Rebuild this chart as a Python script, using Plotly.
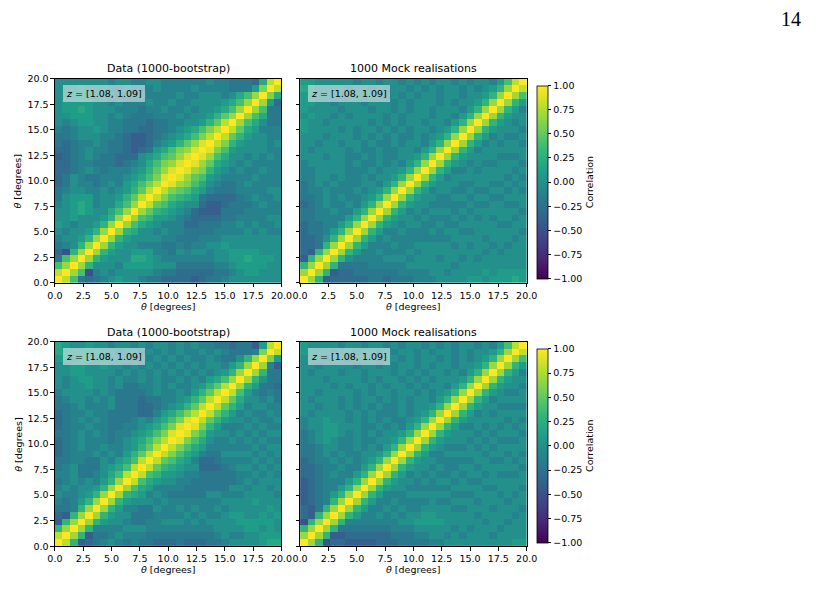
import numpy as np
import plotly.graph_objects as go

# ---------------- data ----------------
N_BINS = 30
THETA_MAX = 20.0
theta_edges = np.linspace(0.0, THETA_MAX, N_BINS + 1)
theta_centres = 0.5 * (theta_edges[:-1] + theta_edges[1:])

tick_vals = [0, 2.5, 5, 7.5, 10, 12.5, 15, 17.5, 20]
tick_text = ["0.0", "2.5", "5.0", "7.5", "10.0", "12.5", "15.0", "17.5", "20.0"]
cbar_vals = [1.0, 0.75, 0.5, 0.25, 0.0, -0.25, -0.5, -0.75, -1.0]
cbar_text = ["1.00", "0.75", "0.50", "0.25", "0.00", "\u22120.25", "\u22120.50", "\u22120.75", "\u22121.00"]

# correlation level code (one character per cell)
LEVEL = {"A": -0.6, "B": -0.5, "C": -0.4, "D": -0.3, "E": -0.2, "F": -0.1,
         "0": 0.0, "1": 0.1, "2": 0.2, "3": 0.3, "4": 0.4, "5": 0.5,
         "6": 0.6, "7": 0.7, "8": 0.8, "9": 0.9, "X": 1.0}

# lower triangle rows (row i = theta_y bin i, columns 0..i-1); diagonal = 1
data_top_rows = [
    "8", "47", "E47", "DB37", "EF037", "F00137", "0F00137", "10F00137",
    "001000137", "0012100247", "F0121F00247", "E0111F001358",
    "EF00FF0F01358", "DE0FFEF0F12468", "DE0FEEFFF012469", "DDEF0FEFFF013579",
    "DDEFFEEEDEF024679", "CDEF0FEEDDD0124579", "DDEF0FFEEDCDE124679",
    "EDEFF0FEEDCCDF013579", "EEF000FFEDCCDEF012468", "FEF0010FFEEDDEEF012468",
    "0F01100FFEEEDEEFF001358", "0011100F0FEEEFFF0F001357",
    "01121000FFFEFF0FF0F001247", "0111100F0FFF0FF0FF00001247",
    "00110000FFF0FFFF0FF000F0247", "0001000FF0FFF0FFFF0FFFFEEE16",
    "0000000F00FF00FFFFFF0FFEEED28",
]
mock_top_rows = [
    "7", "37", "C37", "DC37", "DDE37", "DDE037", "DEEF137", "DEEFF137",
    "EEFFFF137", "EEFF0FF137", "DEF0FF0F137", "EEF0F0FF0137",
    "EFF0FFF0F0137", "EF0F0FFF00F137", "FF00F0FF0F00137", "FF0000FFF0F00137",
    "F00000F0FF0F0F137", "000F00FF0F0FF00137", "0F0000F0FF0FF00F137",
    "00F00F00F0FF0F00F137", "000F000F0F0F0FF0F0137", "10000F0F00F0F0F00F0137",
    "100F00000F0F0F00F00F137", "0100F0F0000F0F000F00F137",
    "10000F000F00F0F00F000F137", "1100F000F000F0F000F0F00137",
    "11000F00F00F0F0F00F00F00137", "210000F00F0F00F0F0F00F0F0137",
    "1100000F00F00F0F0F00F0F00F148",
]
data_bottom_rows = [
    "8", "37", "C37", "DC37", "EEF37", "FEF137", "0FF0137", "F0F00137",
    "EF0F0F137", "FF0EEF0248", "EF0EEE01248", "EEFFEE0F1248",
    "DEFFF0F0F1358", "DEF0FF0FF01358", "DEF0FFFEF012468", "EEF0F0FEFF012469",
    "DEFF0FFEEFF012469", "DEF0F0FEEEF0F12469", "DEFF0FFEEEEDDF12468",
    "EEF0FFF0EEEDDEF01358", "EF00F0F0EEEDEEFF01358", "F0000F0FEEEEF0FF0F1358",
    "0F00100F0EEFF0F0FF01358", "0F01100F0FF0F0FF0F0F1247",
    "00110000F0F0F0F0F0F0F0137", "001100100F0F0F0F0F0F00F137",
    "1101100000F0F0F0F0FF0FEE037", "21110100F00F0F0F0FF0F0FEEEF6",
    "2100100F00F0F00F0F0FFEEDEEC18",
]
mock_bottom_rows = [
    "7", "37", "B37", "DC37", "DCE37", "CDEF37", "CDEF137", "CDEFF137",
    "CDEFFF137", "DDEF0FF137", "DDEFF0FF137", "DEFF0F0F0137",
    "EEF0F0FF00137", "EEF00FF0F0F137", "EF010FF0FF00137", "EF0110F0F0F00137",
    "F0011000FF0F0F137", "F00100F0F0F0FF0137", "0F0000F0F0FFF0F0137",
    "00F00F0F0F0FF0F00137", "0F000F0F00F0F0F00F137", "00F0000F0F00F00F0F0137",
    "0000F0F00F0F00F0F00F137", "000F0000F0F00F0F0F000137",
    "0F000F00F000F0F0F00F0F137", "00F0000F00F0F00F0F00F00137",
    "000F00F000F00F0F00F0F0F0137", "1000F00F00F0F00F0F00F0F00137",
    "10000F00F00F0F00F0F0F00F0F148",
]

panel_titles = ["Data (1000-bootstrap)", "1000 Mock realisations",
                "Data (1000-bootstrap)", "1000 Mock realisations"]
z_label = "<i>z</i> = [1.08, 1.09]"


def build(rows):
    m = np.eye(N_BINS)
    for i, s in enumerate(rows, start=1):
        for j, ch in enumerate(s[:i]):
            m[i, j] = LEVEL[ch]
            m[j, i] = LEVEL[ch]
    return m


mats = [build(data_top_rows), build(mock_top_rows),
        build(data_bottom_rows), build(mock_bottom_rows)]

# ---------------- layout geometry (pixels) ----------------
W, H = 818, 616
FONT = "DejaVu Sans"
col_x = [(48, 280), (299, 531)]
row_y = [(74, 282), (342, 550)]


def px_x(v):
    return v / W


def px_y(v):
    return 1 - v / H


fig = go.Figure()
for k, m in enumerate(mats):
    r, c = divmod(k, 2)
    idx = k + 1
    fig.add_trace(go.Heatmap(
        z=m, x=theta_centres, y=theta_centres,
        coloraxis="coloraxis" if r == 0 else "coloraxis2",
        xaxis="x" if idx == 1 else f"x{idx}",
        yaxis="y" if idx == 1 else f"y{idx}",
        hoverinfo="skip", zsmooth=False,
    ))

axis_common = dict(
    range=[0, 20], showgrid=False, zeroline=False, showline=True, mirror=True,
    linecolor="black", linewidth=0.8, ticks="outside", ticklen=3.5, tickwidth=0.8,
    tickcolor="black", tickvals=tick_vals, ticktext=tick_text,
    tickfont=dict(family=FONT, size=9.5, color="black"),
)

layout = dict(
    width=W, height=H, margin=dict(l=0, r=0, t=0, b=0),
    paper_bgcolor="white", plot_bgcolor="white", showlegend=False,
    font=dict(family=FONT, color="black"),
)
for k in range(4):
    r, c = divmod(k, 2)
    idx = k + 1
    xa = "xaxis" if idx == 1 else f"xaxis{idx}"
    ya = "yaxis" if idx == 1 else f"yaxis{idx}"
    layout[xa] = dict(axis_common, domain=[px_x(col_x[c][0]), px_x(col_x[c][1])],
                      anchor="y" if idx == 1 else f"y{idx}")
    layout[ya] = dict(axis_common, domain=[px_y(row_y[r][1]), px_y(row_y[r][0])],
                      anchor="x" if idx == 1 else f"x{idx}",
                      showticklabels=(c == 0))


def cbar(top, length):
    return dict(
        x=px_x(541.5), xanchor="left", xpad=0,
        y=px_y(top), yanchor="top", ypad=0,
        thickness=11, thicknessmode="pixels", len=length, lenmode="pixels",
        outlinewidth=0.8, outlinecolor="black",
        ticks="outside", ticklen=3.5, tickwidth=0.8, tickcolor="black",
        tickvals=cbar_vals, ticktext=cbar_text,
        tickfont=dict(family=FONT, size=9.5, color="black"),
        title=dict(text="Correlation", side="right",
                   font=dict(family=FONT, size=9.5, color="black")),
    )


layout["coloraxis"] = dict(colorscale="Viridis", cmin=-1, cmax=1, colorbar=cbar(81, 193))
layout["coloraxis2"] = dict(colorscale="Viridis", cmin=-1, cmax=1, colorbar=cbar(349, 194))

ann = []
for k in range(4):
    r, c = divmod(k, 2)
    x0, x1 = col_x[c]
    y0, y1 = row_y[r]
    xc = (x0 + x1) / 2
    # title
    ann.append(dict(text=panel_titles[k], x=px_x(xc), y=px_y(y0 - 10), xref="paper", yref="paper",
                    xanchor="center", yanchor="middle", showarrow=False,
                    font=dict(family=FONT, size=11, color="black")))
    # x label
    ann.append(dict(text="<i>θ</i> [degrees]", x=px_x(xc), y=px_y(y1 + 24), xref="paper", yref="paper",
                    xanchor="center", yanchor="middle", showarrow=False,
                    font=dict(family=FONT, size=9.5, color="black")))
    # redshift box
    ann.append(dict(text=z_label, x=px_x(x0 + 8), y=px_y(y0 + 6), xref="paper", yref="paper",
                    xanchor="left", yanchor="top", showarrow=False,
                    bgcolor="rgba(255,255,255,0.5)", borderpad=3, borderwidth=0,
                    font=dict(family=FONT, size=9.5, color="black")))
    if c == 0:
        ann.append(dict(text="<i>θ</i> [degrees]", x=px_x(10), y=px_y((y0 + y1) / 2), xref="paper",
                        yref="paper", xanchor="center", yanchor="middle", showarrow=False,
                        textangle=-90, font=dict(family=FONT, size=9.5, color="black")))

ann.append(dict(text="14", x=px_x(802), y=px_y(13), xref="paper", yref="paper",
                xanchor="center", yanchor="middle", showarrow=False,
                font=dict(family="Liberation Serif", size=20, color="black")))
layout["annotations"] = ann

fig.update_layout(**layout)
fig.write_html("out.html")
